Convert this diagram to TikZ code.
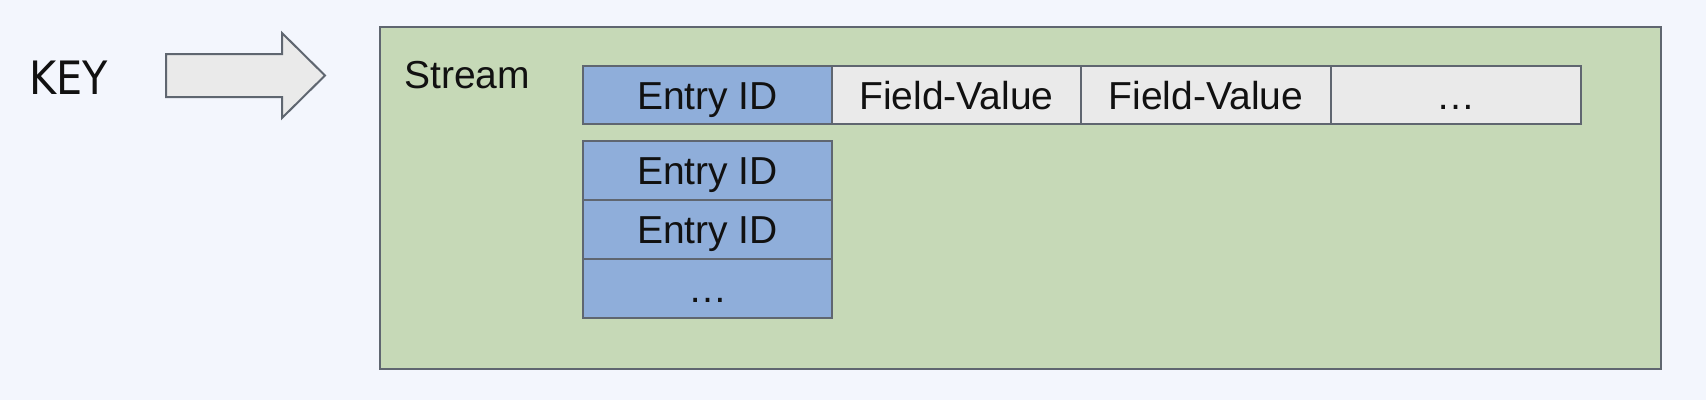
\documentclass[tikz,border=0pt]{standalone}
\usepackage{fontspec}
\setmainfont{Liberation Sans}
\newfontfamily\keyfont{DejaVu Sans Condensed}
\definecolor{bgc}{HTML}{F3F6FD}
\definecolor{greenc}{HTML}{C6D9B7}
\definecolor{bluec}{HTML}{8FAEDA}
\definecolor{grayc}{HTML}{EAEAEA}
\definecolor{linec}{HTML}{5F6670}
\definecolor{txtc}{HTML}{111111}
\begin{document}
\begin{tikzpicture}[x=1pt,y=-1pt,
  lbl/.style={font=\fontsize{39}{47}\selectfont, text=txtc},
  cell/.style={draw=linec, line width=2pt, inner sep=0pt, minimum height=58.5pt,
    text height=28pt, text depth=0pt, lbl},
  idcell/.style={cell, fill=bluec, minimum width=249pt},
  fvcell/.style={cell, fill=grayc, minimum width=249.5pt},
  streambox/.style={draw=linec, line width=2pt, fill=greenc},
  bigarrow/.style={draw=linec, line width=2pt, fill=grayc, line join=miter}]
\useasboundingbox (0,0) rectangle (1706,400);
\fill[bgc] (0,0) rectangle (1706,400);
% key label
\node[lbl, font=\keyfont\fontsize{46}{55}\selectfont, anchor=base west, inner sep=0pt] (key) at (29,94) {KEY};
% arrow
\draw[bigarrow] (166,54) -- (282,54) -- (282,33) -- (325,75.5) -- (282,118) -- (282,97) -- (166,97) -- cycle;
% stream container
\node[streambox, minimum width=1281pt, minimum height=342pt, inner sep=0pt, anchor=north west] (stream) at (379,26) {};
\node[lbl, anchor=base west, inner sep=0pt] (streamlbl) at (404,88) {Stream};
% top row
\node[idcell] (e0) at (707.5,95) {Entry ID};
\node[fvcell] (f1) at (956.5,95) {Field-Value};
\node[fvcell] (f2) at (1206,95) {Field-Value};
\node[fvcell] (f3) at (1456,95) {\dots};
% column
\node[idcell, minimum height=59pt] (c1) at (707.5,170.5) {Entry ID};
\node[idcell, minimum height=59pt] (c2) at (707.5,229.5) {Entry ID};
\node[idcell, minimum height=59pt] (c3) at (707.5,288.5) {\dots};
\end{tikzpicture}
\end{document}
